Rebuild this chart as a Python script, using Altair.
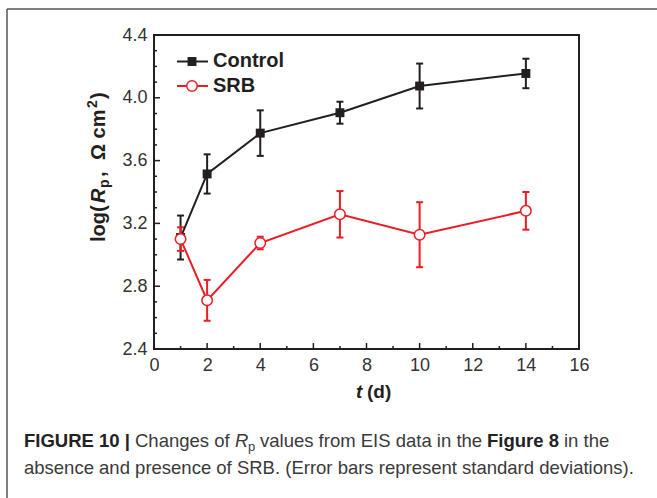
import altair as alt
import pandas as pd

# ---------------- data ----------------
t_days = [1, 2, 4, 7, 10, 14]
control_mean = [3.11, 3.515, 3.775, 3.905, 4.075, 4.155]
control_sd = [0.14, 0.125, 0.145, 0.07, 0.143, 0.094]
srb_mean = [3.10, 2.71, 3.075, 3.258, 3.128, 3.28]
srb_sd = [0.075, 0.13, 0.04, 0.148, 0.207, 0.12]

x_major = [0, 2, 4, 6, 8, 10, 12, 14, 16]
x_minor = [1, 3, 5, 7, 9, 11, 13, 15]
y_major = [2.4, 2.8, 3.2, 3.6, 4.0, 4.4]
y_minor = [2.5, 2.6, 2.7, 2.9, 3.0, 3.1, 3.3, 3.4, 3.5, 3.7, 3.8, 3.9, 4.1, 4.2, 4.3]

BLACK = "#231f20"
RED = "#ed1c24"
FONT = "Liberation Sans"
W, H = 425, 314

ctrl = pd.DataFrame({"t": t_days, "v": control_mean,
                     "lo": [m - s for m, s in zip(control_mean, control_sd)],
                     "hi": [m + s for m, s in zip(control_mean, control_sd)]})
srb = pd.DataFrame({"t": t_days, "v": srb_mean,
                    "lo": [m - s for m, s in zip(srb_mean, srb_sd)],
                    "hi": [m + s for m, s in zip(srb_mean, srb_sd)]})

xscale = alt.Scale(domain=[0, 16], nice=False, zero=False)
yscale = alt.Scale(domain=[2.4, 4.4], nice=False, zero=False)
xaxis = alt.Axis(values=x_major, title=None, domain=False, grid=False, ticks=False,
                 labelFont=FONT, labelFontSize=18, labelColor="#333333", labelPadding=7,
                 labelFlush=False)
yaxis = alt.Axis(values=y_major, format=".1f", title=None, domain=False, grid=False, ticks=False,
                 labelFont=FONT, labelFontSize=18, labelColor="#333333", labelPadding=7,
                 labelFlush=False)


def X(f="t"):
    return alt.X(f"{f}:Q", scale=xscale, axis=xaxis)


def Y(f="v"):
    return alt.Y(f"{f}:Q", scale=yscale, axis=yaxis)


def series(df, color, shape, filled_white):
    line = alt.Chart(df).mark_line(color=color, strokeWidth=2).encode(x=X(), y=Y())
    bar = alt.Chart(df).mark_rule(color=color, strokeWidth=2).encode(x=X(), y=Y("lo"), y2="hi")
    cap_hi = alt.Chart(df).mark_rule(color=color, strokeWidth=2, xOffset=-3.5, x2Offset=3.5).encode(
        x=X(), x2="t", y=Y("hi"))
    cap_lo = alt.Chart(df).mark_rule(color=color, strokeWidth=2, xOffset=-3.5, x2Offset=3.5).encode(
        x=X(), x2="t", y=Y("lo"))
    if filled_white:
        pts = alt.Chart(df).mark_point(shape=shape, filled=True, fill="white", stroke=color,
                                       strokeWidth=1.5, size=110, opacity=1).encode(x=X(), y=Y())
    else:
        pts = alt.Chart(df).mark_point(shape=shape, filled=True, color=color, size=80,
                                       opacity=1).encode(x=X(), y=Y())
    return [line, bar, cap_hi, cap_lo, pts]


def ticks_x(vals, length):
    return alt.Chart(pd.DataFrame({"t": vals})).mark_rule(color=BLACK, strokeWidth=1.5).encode(
        x=X(), y=alt.value(H), y2=alt.value(H - length))


def ticks_y(vals, length):
    return alt.Chart(pd.DataFrame({"v": vals})).mark_rule(color=BLACK, strokeWidth=1.5).encode(
        y=Y(), x=alt.value(0), x2=alt.value(length))


def text(s, x, y, size, weight="normal", style="normal", angle=0, color=BLACK, align="left",
         baseline="alphabetic"):
    return alt.Chart(pd.DataFrame({"s": [s]})).mark_text(
        font=FONT, fontSize=size, fontWeight=weight, fontStyle=style, angle=angle,
        color=color, align=align, baseline=baseline).encode(
        x=alt.value(x), y=alt.value(y), text="s:N")


OX, OY = 154, 35  # plot origin on the page


def px(x):
    return x - OX


def py(y):
    return y - OY


layers = []
layers += [ticks_x(x_major, 6), ticks_x(x_minor, 3), ticks_y(y_major, 6), ticks_y(y_minor, 3)]
layers += series(ctrl, BLACK, "square", False)
layers += series(srb, RED, "circle", True)

# legend
leg = pd.DataFrame({"a": [0]})
layers += [
    alt.Chart(leg).mark_rule(color=BLACK, strokeWidth=2).encode(
        x=alt.value(px(177)), x2=alt.value(px(208)), y=alt.value(py(61.5))),
    alt.Chart(leg).mark_point(shape="square", filled=True, color=BLACK, size=80, opacity=1).encode(
        x=alt.value(px(192)), y=alt.value(py(61.5))),
    text("Control", px(213), py(67), 20, weight="bold"),
    alt.Chart(leg).mark_rule(color=RED, strokeWidth=2).encode(
        x=alt.value(px(177)), x2=alt.value(px(208)), y=alt.value(py(86))),
    alt.Chart(leg).mark_point(shape="circle", filled=True, fill="white", stroke=RED, strokeWidth=1.5,
                              size=110, opacity=1).encode(x=alt.value(px(192)), y=alt.value(py(86))),
    text("SRB", px(213), py(92), 20, weight="bold"),
]

# y-axis title pieces (rotated)
YB = px(105)
layers += [
    text("log(", YB, py(242), 20, weight="bold", angle=270),
    text("R", YB, py(203), 20, weight="bold", style="italic", angle=270),
    text("p", YB + 4, py(188), 14, weight="bold", angle=270),
    text(",", YB, py(177), 20, weight="bold", angle=270),
    text("Ω cm", YB, py(160), 20, weight="bold", angle=270),
    text("2", YB - 8, py(108), 14, weight="bold", angle=270),
    text(")", YB, py(99), 20, weight="bold", angle=270),
]

# x-axis title
layers += [
    text("t", px(356), py(398), 19, weight="bold", style="italic"),
    text("(d)", px(367), py(398), 19, weight="bold"),
]

# caption
CAP = "#3a3a3a"
L1, L2 = py(447), py(474)
FS = 18.5
layers += [
    text("FIGURE 10 |", px(24), L1, FS, weight="bold", color="#222222"),
    text("Changes of", px(135), L1, FS, color=CAP),
    text("R", px(235), L1, FS, style="italic", color=CAP),
    text("p", px(248), L1 + 4, 13, color=CAP),
    text("values from EIS data in the", px(260), L1, FS, color=CAP),
    text("Figure 8", px(487), L1, FS, weight="bold", color="#222222"),
    text("in the", px(564), L1, FS, color=CAP),
    text("absence and presence of SRB. (Error bars represent standard deviations).", px(24), L2, FS,
         color=CAP),
]

# outer border (top and left edges visible)
layers += [
    alt.Chart(leg).mark_rule(color="#555555", strokeWidth=1.5).encode(
        x=alt.value(px(7)), x2=alt.value(px(700)), y=alt.value(py(9))),
    alt.Chart(leg).mark_rule(color="#555555", strokeWidth=1.5).encode(
        x=alt.value(px(7)), y=alt.value(py(9)), y2=alt.value(py(560))),
]

chart = alt.layer(*layers).properties(
    width=W, height=H,
    autosize=alt.AutoSizeParams(type="none"),
    padding={"left": OX, "top": OY, "right": 657 - OX - W, "bottom": 498 - OY - H},
    background="white",
).configure_view(stroke=BLACK, strokeWidth=2)

chart.save("out.html", embed_options={"renderer": "svg", "actions": False})
